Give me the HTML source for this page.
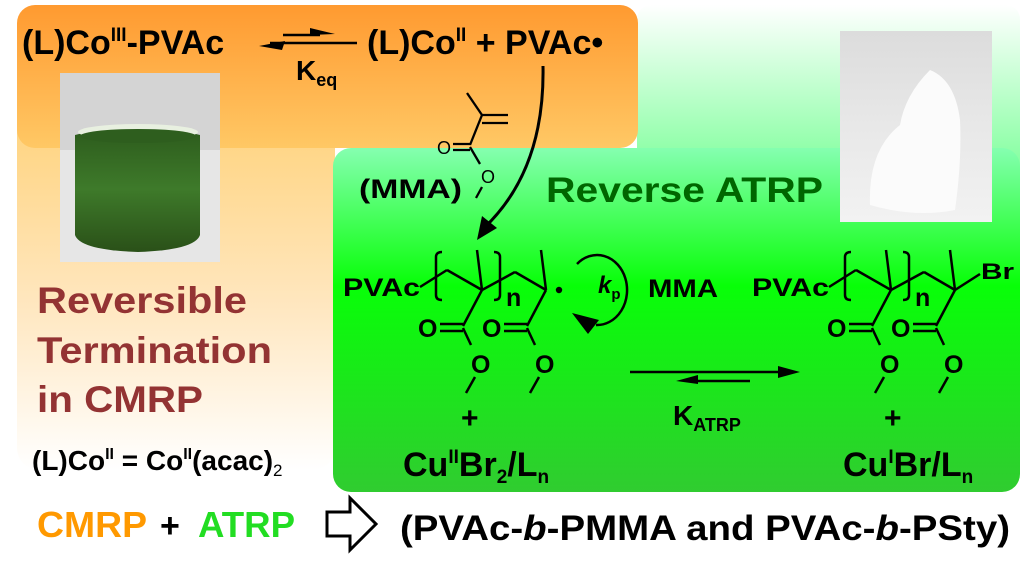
<!DOCTYPE html>
<html><head><meta charset="utf-8"><style>
html,body{margin:0;padding:0;background:#fff;}
svg{display:block;font-family:"Liberation Sans",Arial,sans-serif;font-weight:bold;}
</style></head><body>
<svg width="1025" height="569" viewBox="0 0 1025 569" xmlns="http://www.w3.org/2000/svg">
<defs>
<linearGradient id="og" x1="0" y1="0" x2="0" y2="1"><stop offset="0" stop-color="#ff9a30"/><stop offset="1" stop-color="#ffc865"/></linearGradient>
<linearGradient id="po" x1="0" y1="0" x2="0" y2="1"><stop offset="0" stop-color="#ffd27a"/><stop offset="0.55" stop-color="#ffe7c0"/><stop offset="1" stop-color="#ffffff"/></linearGradient>
<linearGradient id="lg" x1="0" y1="0" x2="0" y2="1"><stop offset="0" stop-color="#ffffff"/><stop offset="1" stop-color="#70ff90"/></linearGradient>
<linearGradient id="gg" x1="0" y1="0" x2="0" y2="1"><stop offset="0" stop-color="#85ffb0"/><stop offset="0.4" stop-color="#08ff08"/><stop offset="1" stop-color="#30cc30"/></linearGradient>
<linearGradient id="liq" x1="0" y1="0" x2="0" y2="1"><stop offset="0" stop-color="#2c5a1c"/><stop offset="0.5" stop-color="#3e7a2a"/><stop offset="1" stop-color="#2a5018"/></linearGradient>
<linearGradient id="wv" x1="0" y1="0" x2="0" y2="1"><stop offset="0" stop-color="#dcdcdc"/><stop offset="0.5" stop-color="#e8e8e8"/><stop offset="1" stop-color="#f2f2f2"/></linearGradient>
</defs>
<rect x="637" y="5" width="383" height="188" rx="14" fill="url(#lg)"/>
<rect x="17" y="107" width="318" height="363" rx="22" fill="url(#po)"/>
<rect x="17" y="5" width="621" height="143" rx="18" fill="url(#og)"/>
<rect x="333" y="148" width="687" height="344" rx="18" fill="url(#gg)"/>
<!-- dark vial photo -->
<rect x="60" y="73" width="160" height="189" fill="#d4d4d4"/>
<rect x="60" y="150" width="160" height="112" fill="#e6e6e6"/>
<path d="M75 135 Q138 118 200 135 L200 235 Q195 250 138 252 Q80 250 75 235 Z" fill="url(#liq)"/>
<ellipse cx="138" cy="132" rx="60" ry="8" fill="#e8f0e0"/>
<ellipse cx="138" cy="136" rx="58" ry="7" fill="#2e5e1e"/>
<!-- white vial photo -->
<rect x="840" y="31" width="152" height="191" fill="url(#wv)"/>
<path d="M870 205 Q868 150 900 125 Q905 95 930 70 Q955 80 960 120 Q962 160 955 210 Q915 218 870 205 Z" fill="#fbfbfb"/>
<!-- top text -->
<g font-size="34" fill="#000">
<text x="22" y="54">(L)Co<tspan font-size="19" dy="-13">III</tspan><tspan dy="13">-PVAc</tspan></text>
<text x="367" y="54">(L)Co<tspan font-size="19" dy="-13">II</tspan><tspan dy="13"> + PVAc•</tspan></text>
<text x="296" y="80" font-size="28">K<tspan font-size="18" dy="6">eq</tspan></text>
</g>
<g stroke="#000" stroke-width="2.5" fill="none">
<line x1="283" y1="35" x2="320" y2="35"/><line x1="270" y1="43" x2="357" y2="43"/>
</g>
<path d="M335 34 L310 28 L310 35 Z" fill="#000"/>
<path d="M259 46 L285 41 L282 50 Z" fill="#000"/>
<!-- curved arrow -->
<path d="M543 66 Q545 170 484 228" stroke="#000" stroke-width="3" fill="none"/>
<path d="M477 240 L482 216 L497 228 Z" fill="#000"/>
<!-- MMA molecule -->
<g stroke="#000" stroke-width="2.3" fill="none">
<line x1="467" y1="93" x2="482" y2="115"/><line x1="482" y1="115" x2="508" y2="115"/><line x1="482" y1="123" x2="508" y2="123"/>
<line x1="482" y1="115" x2="470" y2="145"/><line x1="453" y1="144" x2="470" y2="144"/><line x1="453" y1="150" x2="470" y2="150"/>
<line x1="470" y1="147" x2="480" y2="164"/><line x1="482" y1="187" x2="476" y2="198"/>
</g>
<g font-size="18" font-weight="normal"><text x="437" y="154">O</text><text x="481" y="183">O</text></g>
<text x="359" y="198" font-size="27" textLength="103" lengthAdjust="spacingAndGlyphs">(MMA)</text>
<text x="546" y="202" font-size="35" fill="#006600" textLength="277" lengthAdjust="spacingAndGlyphs">Reverse ATRP</text>
<!-- polymer -->
<g id="poly">
<g stroke="#000" stroke-width="2.5" fill="none">
<line x1="420" y1="287" x2="447" y2="270"/><line x1="447" y1="270" x2="482" y2="290"/><line x1="482" y1="290" x2="515" y2="272"/><line x1="515" y1="272" x2="546" y2="290"/>
<line x1="482" y1="290" x2="477" y2="250"/><line x1="546" y1="290" x2="541" y2="250"/>
<path d="M442 252 Q436 252 436 257 L436 295 Q436 300 442 300"/>
<path d="M494 252 Q500 252 500 257 L500 295 Q500 300 494 300"/>
<line x1="482" y1="290" x2="463" y2="326"/><line x1="440" y1="324" x2="463" y2="324"/><line x1="440" y1="331" x2="463" y2="331"/><line x1="463" y1="328" x2="471" y2="345"/><line x1="475" y1="377" x2="466" y2="393"/>
<line x1="546" y1="290" x2="527" y2="326"/><line x1="504" y1="324" x2="527" y2="324"/><line x1="504" y1="331" x2="527" y2="331"/><line x1="527" y1="328" x2="535" y2="345"/><line x1="539" y1="377" x2="530" y2="393"/>
</g>
<g font-size="25"><text x="343" y="296" textLength="77" lengthAdjust="spacingAndGlyphs">PVAc</text><text x="506" y="306">n</text>
<text x="418" y="337">O</text><text x="482" y="337">O</text><text x="471" y="373">O</text><text x="535" y="373">O</text></g>
</g>
<circle cx="559" cy="290" r="3.2" fill="#000"/>
<use href="#poly" x="409"/>
<line x1="955" y1="290" x2="980" y2="274" stroke="#000" stroke-width="2.5"/>
<text x="981" y="279" font-size="22" textLength="33" lengthAdjust="spacingAndGlyphs">Br</text>
<!-- kp loop -->
<path d="M577 264 A30 35 0 1 1 596 325" stroke="#000" stroke-width="2.5" fill="none"/>
<path d="M572 313 L599 320 L588 334 Z" fill="#000"/>
<text x="598" y="293" font-size="24" font-style="italic">k<tspan font-size="15" font-style="normal" dy="6">p</tspan></text>
<text x="648" y="297" font-size="25" textLength="70" lengthAdjust="spacingAndGlyphs">MMA</text>
<!-- ATRP equilibrium -->
<line x1="630" y1="372" x2="785" y2="372" stroke="#000" stroke-width="2.5"/>
<path d="M800 372 L778 366 L778 378 Z" fill="#000"/>
<line x1="690" y1="381" x2="750" y2="381" stroke="#000" stroke-width="2.5"/>
<path d="M676 381 L698 375 L698 384 Z" fill="#000"/>
<text x="673" y="425" font-size="28">K<tspan font-size="18" dy="6">ATRP</tspan></text>
<text x="461" y="428" font-size="30">+</text><text x="884" y="428" font-size="30">+</text>
<text x="403" y="476" font-size="34">Cu<tspan font-size="19" dy="-13">II</tspan><tspan dy="13">Br</tspan><tspan font-size="19" dy="7">2</tspan><tspan dy="-7">/L</tspan><tspan font-size="19" dy="7">n</tspan></text>
<text x="843" y="476" font-size="34">Cu<tspan font-size="19" dy="-13">I</tspan><tspan dy="13">Br/L</tspan><tspan font-size="19" dy="7">n</tspan></text>
<!-- left texts -->
<g font-size="37" fill="#933333">
<text x="37" y="313" textLength="210" lengthAdjust="spacingAndGlyphs">Reversible</text>
<text x="37" y="363" textLength="235" lengthAdjust="spacingAndGlyphs">Termination</text>
<text x="37" y="412" textLength="166" lengthAdjust="spacingAndGlyphs">in CMRP</text></g>
<text x="32" y="470" font-size="28">(L)Co<tspan font-size="16" dy="-11">II</tspan><tspan dy="11"> = Co</tspan><tspan font-size="16" dy="-11">II</tspan><tspan dy="11">(acac)</tspan><tspan font-size="17" font-weight="normal" dy="6">2</tspan></text>
<text x="37" y="537" font-size="36" fill="#ff9900" textLength="110" lengthAdjust="spacingAndGlyphs">CMRP</text>
<text x="160" y="537" font-size="34">+</text>
<text x="198" y="537" font-size="36" fill="#22dd22" textLength="97" lengthAdjust="spacingAndGlyphs">ATRP</text>
<path d="M327 512 L350 512 L350 498 L376 524 L350 550 L350 536 L327 536 Z" fill="#fff" stroke="#000" stroke-width="3"/>
<text x="400" y="540" font-size="35" textLength="610" lengthAdjust="spacingAndGlyphs">(PVAc-<tspan font-style="italic">b</tspan>-PMMA and PVAc-<tspan font-style="italic">b</tspan>-PSty)</text>
</svg>
</body></html>
